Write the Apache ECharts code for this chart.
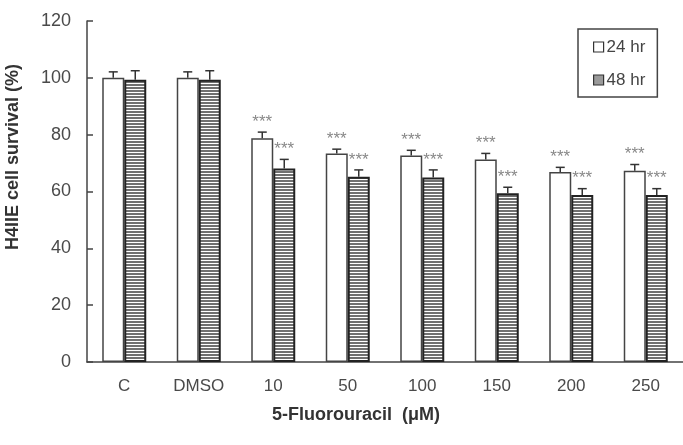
<!DOCTYPE html>
<html>
<head>
<meta charset="utf-8">
<script src="https://cdn.jsdelivr.net/npm/echarts@6/dist/echarts.min.js"></script>
<style>
html,body{margin:0;padding:0;background:#fff;}
#chart{width:683px;height:445px;}
</style>
</head>
<body>
<div id="chart"></div>
<script>
// ---- data ----
const categories = ['C', 'DMSO', '10', '50', '100', '150', '200', '250'];
const survival24 = [100, 100, 78.7, 73.4, 72.7, 71.3, 66.9, 67.3];
const err24      = [2.1, 2.1, 2.2, 1.5, 1.8, 2.1, 1.6, 2.2];
const survival48 = [99.3, 99.3, 68.1, 65.2, 64.9, 59.4, 58.8, 58.8];
const err48      = [3.2, 3.2, 3.2, 2.4, 2.7, 2.1, 2.2, 2.2];
const sig24 = ['', '', '***', '***', '***', '***', '***', '***'];
const sig48 = ['', '', '***', '***', '***', '***', '***', '***'];
const seriesNames = ['24 hr', '48 hr'];
const yTitle = 'H4IIE cell survival (%)';
const xTitle = '5-Fluorouracil  (\u03bcM)';

// ---- styles ----
const FONT = '"Liberation Sans", Arial, sans-serif';
const BAR_W = 22;

const pc = document.createElement('canvas');
pc.width = 4; pc.height = 3;
const pctx = pc.getContext('2d');
pctx.fillStyle = '#ffffff'; pctx.fillRect(0, 0, 4, 3);
pctx.fillStyle = '#707070'; pctx.fillRect(0, 0, 4, 2);
const hatch = { image: pc, repeat: 'repeat' };

function errRenderer(vals, errs, sigs, side) {
  return function (params, api) {
    const i = params.dataIndex;
    const base = api.coord([i, vals[i]]);
    const top = api.coord([i, vals[i] + errs[i]]);
    const x = base[0] + side * BAR_W / 2;
    const children = [
      { type: 'line', shape: { x1: x, y1: base[1], x2: x, y2: top[1] },
        style: { stroke: '#333', lineWidth: 1.5 } },
      { type: 'line', shape: { x1: x - 4.5, y1: top[1], x2: x + 4.5, y2: top[1] },
        style: { stroke: '#333', lineWidth: 1.5 } }
    ];
    if (sigs[i]) {
      children.push({ type: 'text', x: x, y: top[1] - 10,
        style: { text: sigs[i], fill: '#888', font: '17px ' + FONT,
                 align: 'center', verticalAlign: 'middle' } });
    }
    return { type: 'group', children: children };
  };
}

const chart = echarts.init(document.getElementById('chart'), null, { renderer: 'canvas' });
chart.setOption({
  animation: false,
  backgroundColor: '#fff',
  grid: { left: 87, top: 21, width: 604, bottom: 83, containLabel: false },
  legend: {
    orient: 'vertical', left: 578, top: 29,
    borderColor: '#444', borderWidth: 1.5, borderRadius: 0,
    padding: [8, 12, 7, 15], itemGap: 13, itemWidth: 10, itemHeight: 10,
    icon: 'rect',
    textStyle: { fontSize: 17, color: '#444', fontFamily: FONT, lineHeight: 20, padding: [0, 0, 0, -2] },
    data: [
      { name: seriesNames[0], itemStyle: { color: '#fff', borderColor: '#333', borderWidth: 1.2 } },
      { name: seriesNames[1], itemStyle: { color: '#9a9a9a', borderColor: '#333', borderWidth: 1.2 } }
    ]
  },
  xAxis: {
    type: 'category', data: categories,
    axisLine: { lineStyle: { color: '#444', width: 1.5 } },
    axisTick: { show: false },
    axisLabel: { fontSize: 17, color: '#4a4a4a', fontFamily: FONT, margin: 16 }
  },
  yAxis: {
    type: 'value', min: 0, max: 120, interval: 20,
    splitLine: { show: false },
    axisLine: { show: true, lineStyle: { color: '#444', width: 1.5 } },
    axisTick: { show: true, inside: true, length: 6, lineStyle: { color: '#444', width: 1.5 } },
    axisLabel: { fontSize: 18, color: '#4a4a4a', fontFamily: FONT, margin: 16 }
  },
  graphic: [
    { type: 'text', x: 13, y: 157, rotation: Math.PI / 2,
      style: { text: yTitle, font: 'bold 18px ' + FONT, fill: '#333',
               align: 'center', verticalAlign: 'middle' } },
    { type: 'text', x: 356, y: 415,
      style: { text: xTitle, font: 'bold 18px ' + FONT, fill: '#333',
               align: 'center', verticalAlign: 'middle' } }
  ],
  series: [
    { name: seriesNames[0], type: 'bar', data: survival24, barWidth: BAR_W, barGap: '0%',
      itemStyle: { color: '#fff', borderColor: '#444', borderWidth: 1.5 } },
    { name: seriesNames[1], type: 'bar', data: survival48, barWidth: BAR_W, barGap: '0%',
      itemStyle: { color: hatch, borderColor: '#222', borderWidth: 2 } },
    { name: 'err24', type: 'custom', z: 5,
      data: categories.map((c, i) => [i, survival24[i] + err24[i]]),
      renderItem: errRenderer(survival24, err24, sig24, -1) },
    { name: 'err48', type: 'custom', z: 5,
      data: categories.map((c, i) => [i, survival48[i] + err48[i]]),
      renderItem: errRenderer(survival48, err48, sig48, 1) }
  ]
});
</script>
</body>
</html>
